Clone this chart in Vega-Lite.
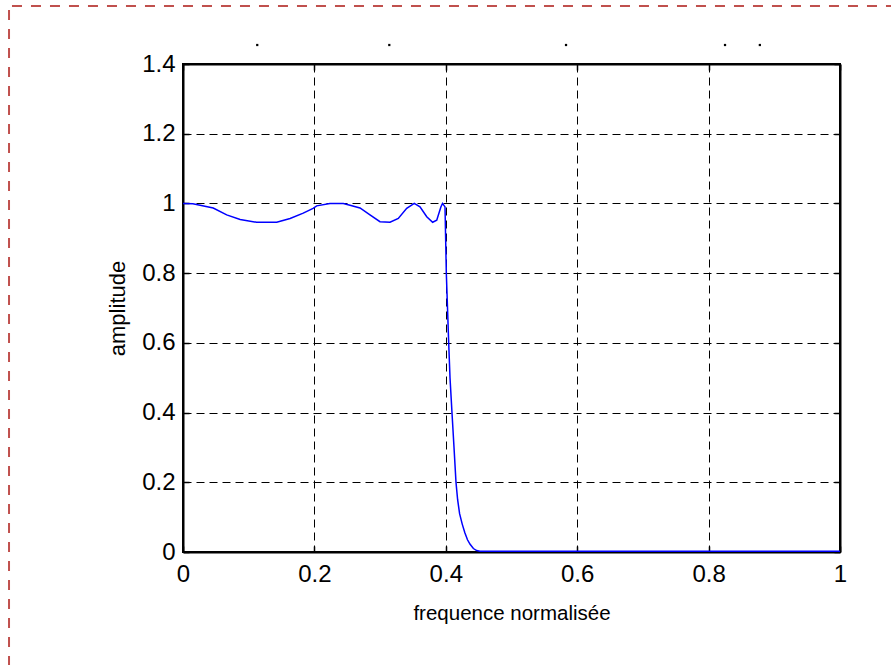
{
  "$schema": "https://vega.github.io/schema/vega-lite/v6.json",
  "width": 657,
  "height": 488,
  "autosize": "none",
  "padding": {"left": 183, "top": 64, "right": 51, "bottom": 113},
  "background": "white",
  "config": {
    "font": "Liberation Sans",
    "view": {"stroke": "black", "strokeWidth": 2}
  },
  "datasets": {
    "curve": [
      {"f": 0.0, "a": 1.0},
      {"f": 0.015, "a": 0.999},
      {"f": 0.026, "a": 0.995},
      {"f": 0.046, "a": 0.987},
      {"f": 0.0665, "a": 0.967},
      {"f": 0.087, "a": 0.954},
      {"f": 0.112, "a": 0.946},
      {"f": 0.1426, "a": 0.946},
      {"f": 0.163, "a": 0.957},
      {"f": 0.183, "a": 0.972},
      {"f": 0.198, "a": 0.986},
      {"f": 0.2035, "a": 0.993},
      {"f": 0.2237, "a": 1.0},
      {"f": 0.244, "a": 1.0},
      {"f": 0.2542, "a": 0.995},
      {"f": 0.2694, "a": 0.987},
      {"f": 0.2846, "a": 0.967},
      {"f": 0.2998, "a": 0.9475},
      {"f": 0.3151, "a": 0.946},
      {"f": 0.3277, "a": 0.957},
      {"f": 0.3405, "a": 0.986},
      {"f": 0.352, "a": 1.0},
      {"f": 0.3607, "a": 0.99},
      {"f": 0.371, "a": 0.962},
      {"f": 0.38, "a": 0.946},
      {"f": 0.3862, "a": 0.952},
      {"f": 0.3925, "a": 0.99},
      {"f": 0.395, "a": 1.0},
      {"f": 0.3988, "a": 0.99},
      {"f": 0.4008, "a": 0.8},
      {"f": 0.4044, "a": 0.6},
      {"f": 0.4064, "a": 0.5},
      {"f": 0.4094, "a": 0.4},
      {"f": 0.4125, "a": 0.3},
      {"f": 0.4155, "a": 0.2},
      {"f": 0.418, "a": 0.15},
      {"f": 0.421, "a": 0.11},
      {"f": 0.425, "a": 0.08},
      {"f": 0.429, "a": 0.055},
      {"f": 0.433, "a": 0.035},
      {"f": 0.437, "a": 0.022},
      {"f": 0.442, "a": 0.01},
      {"f": 0.447, "a": 0.004},
      {"f": 0.452, "a": 0.002},
      {"f": 0.46, "a": 0.002},
      {"f": 1.0, "a": 0.002}
    ],
    "dots": [
      {"f": 0.113, "a": 1.4545},
      {"f": 0.314, "a": 1.4545},
      {"f": 0.583, "a": 1.4545},
      {"f": 0.825, "a": 1.4545},
      {"f": 0.878, "a": 1.4545}
    ],
    "frame": [
      {"side": "top", "x1": -0.2603, "x2": 1.0776, "y1": 1.5664, "y2": 1.5664},
      {"side": "left", "x1": -0.2648, "x2": -0.2648, "y1": 1.555, "y2": -0.3242}
    ]
  },
  "layer": [
    {
      "data": {"name": "curve"},
      "mark": {"type": "line", "color": "#0000ff", "strokeWidth": 1.5, "clip": true},
      "encoding": {
        "x": {
          "field": "f", "type": "quantitative",
          "scale": {"domain": [0, 1], "nice": false, "zero": false},
          "axis": {
            "orient": "bottom",
            "values": [0, 0.2, 0.4, 0.6, 0.8, 1],
            "format": "~g",
            "title": "frequence normalisée",
            "titleFont": "Liberation Sans",
            "titleFontSize": 20.5,
            "titleFontWeight": "normal",
            "titleColor": "black",
            "titlePadding": 17,
            "labelFont": "Liberation Sans",
            "labelFontSize": 24,
            "labelColor": "black",
            "labelPadding": 16,
            "labelFlush": false,
            "labelOverlap": false,
            "tickSize": -6,
            "tickColor": "black",
            "tickWidth": 1.5,
            "domainColor": "black",
            "domainWidth": 2,
            "grid": true,
            "gridColor": "black",
            "gridOpacity": 1,
            "gridWidth": 1,
            "gridDash": [8, 5]
          }
        },
        "y": {
          "field": "a", "type": "quantitative",
          "scale": {"domain": [0, 1.4], "nice": false, "zero": false},
          "axis": {
            "orient": "left",
            "values": [0, 0.2, 0.4, 0.6, 0.8, 1, 1.2, 1.4],
            "format": "~g",
            "title": "amplitude",
            "titleFont": "Liberation Sans",
            "titleFontSize": 22,
            "titleFontWeight": "normal",
            "titleColor": "black",
            "titlePadding": 12,
            "labelFont": "Liberation Sans",
            "labelFontSize": 24,
            "labelColor": "black",
            "labelPadding": 14,
            "labelFlush": false,
            "labelOverlap": false,
            "tickSize": -6,
            "tickColor": "black",
            "tickWidth": 1.5,
            "domainColor": "black",
            "domainWidth": 2,
            "grid": true,
            "gridColor": "black",
            "gridOpacity": 1,
            "gridWidth": 1,
            "gridDash": [8, 5]
          }
        }
      }
    },
    {
      "data": {"name": "dots"},
      "mark": {"type": "square", "color": "black", "size": 5, "opacity": 1, "filled": true},
      "encoding": {
        "x": {
          "field": "f", "type": "quantitative",
          "axis": {
            "orient": "top", "values": [0, 0.2, 0.4, 0.6, 0.8, 1],
            "labels": false, "title": null, "grid": false,
            "tickSize": -6, "tickColor": "black", "tickWidth": 1.5,
            "domainColor": "black", "domainWidth": 2
          }
        },
        "y": {
          "field": "a", "type": "quantitative",
          "axis": {
            "orient": "right", "values": [0, 0.2, 0.4, 0.6, 0.8, 1, 1.2, 1.4],
            "labels": false, "title": null, "grid": false,
            "tickSize": -6, "tickColor": "black", "tickWidth": 1.5,
            "domainColor": "black", "domainWidth": 2
          }
        }
      }
    },
    {
      "data": {"name": "frame"},
      "mark": {"type": "rule", "color": "#c0504d", "strokeWidth": 2, "strokeDash": [10, 9]},
      "encoding": {
        "x": {"field": "x1", "type": "quantitative", "axis": null},
        "x2": {"field": "x2"},
        "y": {"field": "y1", "type": "quantitative", "axis": null},
        "y2": {"field": "y2"}
      }
    }
  ],
  "resolve": {"axis": {"x": "independent", "y": "independent"}}
}
